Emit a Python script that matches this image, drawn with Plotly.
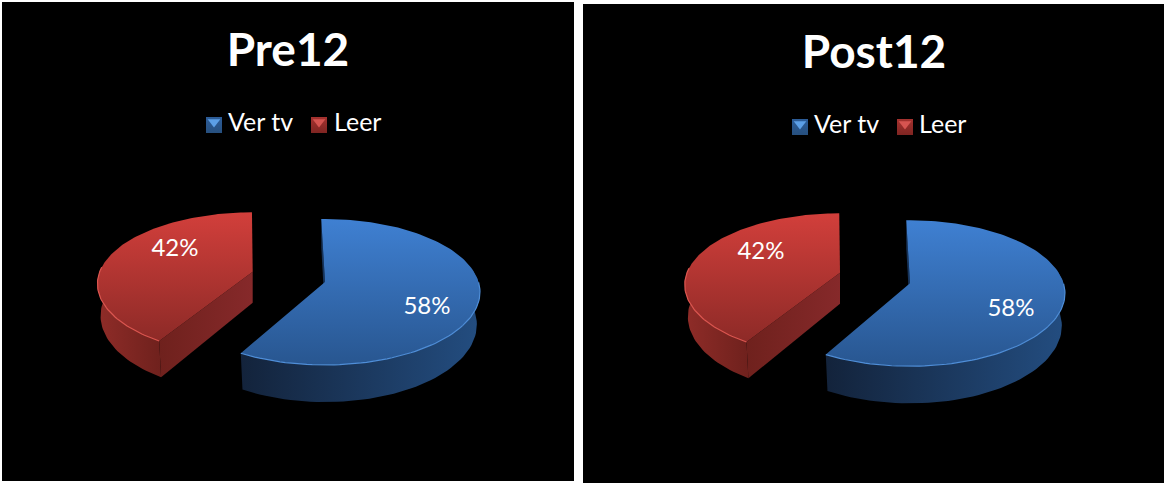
import numpy as np
import plotly.graph_objects as go

panel_titles = ["Pre12", "Post12"]
categories = ["Ver tv", "Leer"]
shares_pre = [58, 42]
shares_post = [58, 42]
panel_shares = [shares_pre, shares_post]

# panel boxes in page pixels: left, top, right, bottom
PANELS = [(2, 2, 574, 481), (583, 4, 1164, 483)]
W, H = 1164, 485

BLUE_FACE = ["#3f80d2", "#285690"]
RED_FACE = ["#d23f3b", "#8d2a27"]
BLUE_SIDE = ["#234d80", "#13233b"]
RED_SIDE = ["#8f2c28", "#6f211d"]


def project(theta, apex, size, persp, depth=0.0):
    # tilted disc with a bit of perspective, theta clockwise from the back
    a, b = size
    u, v = np.sin(np.radians(theta)), -np.cos(np.radians(theta))
    k = 1 - persp * v
    x, y = a * u / k, b * v / k
    if depth:
        return apex[0] + x * 0.98, apex[1] + y + depth / k
    return apex[0] + x, apex[1] + y


def poly(xs, ys, colors, direction, xa, ya):
    return go.Scatter(
        x=xs,
        y=ys,
        xaxis=xa,
        yaxis=ya,
        mode="lines",
        line=dict(width=0),
        fill="toself",
        fillgradient=dict(
            type=direction,
            colorscale=[[0, colors[0]], [1, colors[1]]],
        ),
        hoverinfo="skip",
        showlegend=False,
    )


def blue_slice(share, apex, xa, ya):
    size, persp, depth = (153.5, 71.6), 0.137, 32
    start = -1.6
    end = start + share * 3.6 * 1.008
    fig.add_trace(side_wall(start, 0, apex, size, persp, depth, "#16335a", xa, ya))
    th = np.linspace(max(start, 80), end, 60)
    fig.add_trace(outer_wall(th, apex, size, persp, depth, BLUE_SIDE, xa, ya))
    top_face(start, end, apex, size, persp, BLUE_FACE, "#4f8ed8", xa, ya, 90)


def red_slice(share, apex, xa, ya):
    size, persp, depth = (153, 69.5), 0.17, 31
    start = 211.5
    end = start + share * 3.6 * 0.98
    ex, ey = project(end, apex, size, persp)
    bx, by = project(end, apex, size, persp, depth)
    fig.add_trace(
        poly(
            [ex, apex[0], apex[0], bx, ex],
            [ey, apex[1], apex[1] + depth, by, ey],
            ["#8a2c28", "#6a201c"],
            "vertical",
            xa,
            ya,
        )
    )
    th = np.linspace(start, 275, 40)
    fig.add_trace(outer_wall(th[::-1], apex, size, persp, depth, RED_SIDE[::-1], xa, ya))
    # cut face running from the hub out to the front corner
    cx, cy = project(start, apex, size, persp)
    dx, dy = project(start, apex, size, persp, depth)
    fig.add_trace(
        poly(
            [cx, apex[0], apex[0], dx, cx],
            [cy, apex[1], apex[1] + depth, dy, cy],
            ["#6f211d", "#86292a"],
            "horizontal",
            xa,
            ya,
        )
    )
    top_face(start, end, apex, size, persp, RED_FACE, "#dc5650", xa, ya, 275)


def side_wall(t0, t1, apex, size, persp, depth, color, xa, ya):
    x0, y0 = project(t0, apex, size, persp)
    x1, y1 = project(t0, apex, size, persp, depth)
    return poly(
        [x0, apex[0], apex[0], x1, x0],
        [y0, apex[1], apex[1] + depth, y1, y0],
        [color, color],
        "vertical",
        xa,
        ya,
    )


def outer_wall(th, apex, size, persp, depth, colors, xa, ya):
    x0, y0 = project(th, apex, size, persp)
    x1, y1 = project(th[::-1], apex, size, persp, depth)
    return poly(
        np.r_[x0, x1, x0[0]],
        np.r_[y0, y1, y0[0]],
        colors[::-1],
        "horizontal",
        xa,
        ya,
    )


def top_face(start, end, apex, size, persp, colors, rim, xa, ya, rim_cut):
    th = np.linspace(start, end, 120)
    x, y = project(th, apex, size, persp)
    fig.add_trace(
        poly(
            np.r_[apex[0], x, apex[0]],
            np.r_[apex[1], y, apex[1]],
            colors[::-1],
            "vertical",
            xa,
            ya,
        )
    )
    # light bevel on the front edge of the disc
    if rim_cut > 180:
        keep = th <= rim_cut
    else:
        keep = th >= rim_cut
    fig.add_trace(
        go.Scatter(
            x=x[keep],
            y=y[keep],
            xaxis=xa,
            yaxis=ya,
            mode="lines",
            line=dict(color=rim, width=1.2),
            hoverinfo="skip",
            showlegend=False,
        )
    )


fig = go.Figure()

layouts = [
    dict(
        title=(286, 52),
        blue=(323, 280),
        red=(250.7, 269.7),
        label_blue=(425, 306),
        label_red=(173, 248),
        swatches=(212, 317),
        names=(226, 332),
        legend_y=123,
    ),
    dict(
        title=(291, 52),
        blue=(327, 279.3),
        red=(257, 268.7),
        label_blue=(428, 306),
        label_red=(178, 249),
        swatches=(217, 322),
        names=(231, 336),
        legend_y=123,
    ),
]

for i, (box, spec) in enumerate(zip(PANELS, layouts)):
    xa = "x" if i == 0 else "x2"
    ya = "y" if i == 0 else "y2"
    shares = panel_shares[i]

    red_slice(shares[1], spec["red"], xa, ya)
    blue_slice(shares[0], spec["blue"], xa, ya)

    fig.add_trace(
        go.Scatter(
            x=[spec["label_blue"][0], spec["label_red"][0]],
            y=[spec["label_blue"][1], spec["label_red"][1]],
            xaxis=xa,
            yaxis=ya,
            mode="text",
            text=[f"{s}%" for s in shares],
            textposition="middle center",
            textfont=dict(family="Lato", size=24, color="#ffffff"),
            hoverinfo="skip",
            showlegend=False,
        )
    )

    # legend swatches: dark square with the lighter bevel on top
    fig.add_trace(
        go.Scatter(
            x=list(spec["swatches"]),
            y=[spec["legend_y"]] * 2,
            xaxis=xa,
            yaxis=ya,
            mode="markers",
            marker=dict(
                symbol="square",
                size=16,
                color=["#2c5c98", "#a5322f"],
                gradient=dict(type="vertical", color=["#27507f", "#7f2522"]),
            ),
            hoverinfo="skip",
            showlegend=False,
        )
    )
    fig.add_trace(
        go.Scatter(
            x=list(spec["swatches"]),
            y=[spec["legend_y"] - 3] * 2,
            xaxis=xa,
            yaxis=ya,
            mode="markers",
            marker=dict(
                symbol="triangle-down",
                size=11,
                color=["#5c9fe6", "#d65450"],
            ),
            hoverinfo="skip",
            showlegend=False,
        )
    )
    fig.add_trace(
        go.Scatter(
            x=list(spec["names"]),
            y=[spec["legend_y"]] * 2,
            xaxis=xa,
            yaxis=ya,
            mode="text",
            text=categories,
            textposition="middle right",
            textfont=dict(family="Lato", size=25, color="#ffffff"),
            hoverinfo="skip",
            showlegend=False,
        )
    )
    fig.add_trace(
        go.Scatter(
            x=[spec["title"][0]],
            y=[spec["title"][1]],
            xaxis=xa,
            yaxis=ya,
            mode="text",
            text=[f"<b>{panel_titles[i]}</b>"],
            textposition="middle center",
            textfont=dict(family="Lato", size=46, color="#ffffff"),
            hoverinfo="skip",
            showlegend=False,
        )
    )

axis_style = dict(visible=False, showgrid=False, zeroline=False, fixedrange=True)
for i, box in enumerate(PANELS):
    suffix = "" if i == 0 else "2"
    fig.update_layout(
        {
            f"xaxis{suffix}": dict(
                axis_style,
                domain=[box[0] / W, box[2] / W],
                range=[0, box[2] - box[0]],
            ),
            f"yaxis{suffix}": dict(
                axis_style,
                domain=[1 - box[3] / H, 1 - box[1] / H],
                range=[box[3] - box[1], 0],
            ),
        }
    )

fig.update_layout(
    width=W,
    height=H,
    margin=dict(l=0, r=0, t=0, b=0),
    paper_bgcolor="#ffffff",
    plot_bgcolor="#000000",
    showlegend=False,
)

fig.write_html(
    "out.html",
    config=dict(displayModeBar=False),
    post_script="document.body.style.margin='0';document.body.style.overflow='hidden';",
)
